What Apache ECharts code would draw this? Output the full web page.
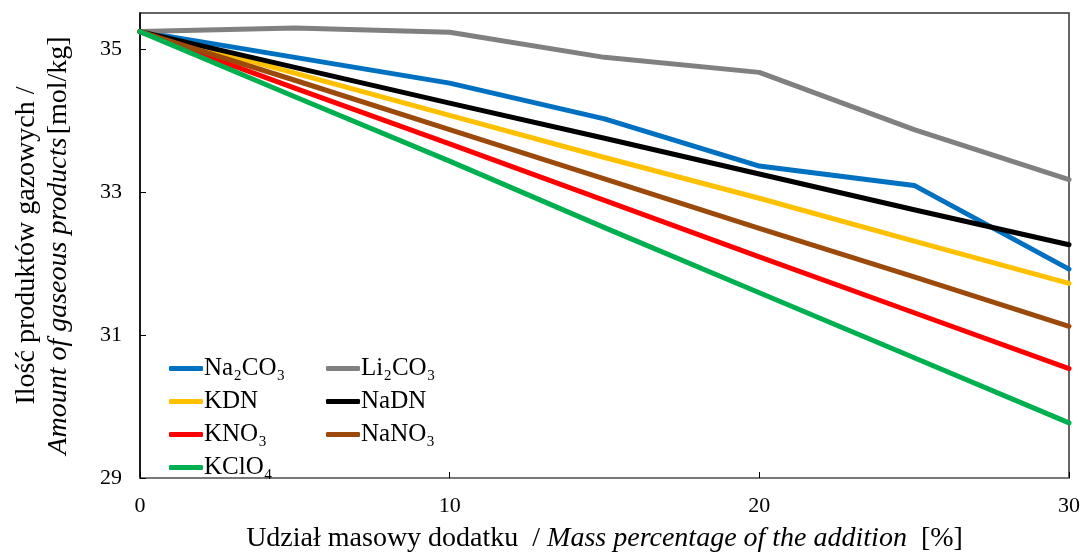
<!DOCTYPE html>
<html lang="pl">
<head>
<meta charset="UTF-8">
<title>Ilość produktów gazowych</title>
<script src="https://cdn.jsdelivr.net/npm/echarts@6/dist/echarts.min.js"></script>
<style>
    html, body, #content {
        width: 100%;
        height: 100%;
        margin: 0;
        background: #fff;
    }
</style>
</head>
<body>
<div id="content"></div>
<script>
// udział masowy dodatku [%]
var xValues = [0, 5, 10, 15, 20, 25, 30];
// ilość produktów gazowych [mol/kg]
var na2co3 = [35.24, 34.88, 34.52, 34.02, 33.36, 33.09, 31.92];
var li2co3 = [35.24, 35.29, 35.23, 34.88, 34.67, 33.87, 33.17];
var kdn    = [35.24, 34.66, 34.07, 33.48, 32.91, 32.31, 31.72];
var nadn   = [35.24, 34.74, 34.24, 33.75, 33.25, 32.75, 32.26];
var kno3   = [35.24, 34.45, 33.67, 32.88, 32.09, 31.31, 30.53];
var nano3  = [35.24, 34.56, 33.87, 33.18, 32.49, 31.81, 31.12];
var kclo4  = [35.24, 34.33, 33.43, 32.50, 31.59, 30.68, 29.77];

var names  = ['Na₂CO₃', 'Li₂CO₃', 'KDN', 'NaDN', 'KNO₃', 'NaNO₃', 'KClO₄'];
var colors = ['#0070C0', '#808080', '#FFC000', '#000000', '#FF0000', '#9C4A0C', '#00B050'];
var values = [na2co3, li2co3, kdn, nadn, kno3, nano3, kclo4];

var font = '"Liberation Serif", "Times New Roman", serif';

function pairs(arr) {
    return arr.map(function (v, i) { return [xValues[i], v]; });
}

var series = names.map(function (n, i) {
    return {
        name: n,
        type: 'line',
        data: pairs(values[i]),
        showSymbol: false,
        symbol: 'none',
        lineStyle: { color: colors[i], width: 5, cap: 'round', join: 'round' },
        itemStyle: { color: colors[i] },
        emphasis: { disabled: true }
    };
});

var legendBase = {
    orient: 'vertical',
    icon: 'roundRect',
    itemWidth: 34,
    itemHeight: 5,
    itemGap: 8,
    top: 351,
    textStyle: { fontFamily: font, fontSize: 25, color: '#000', padding: [0, 0, 0, -4] }
};

var chart = echarts.init(document.getElementById('content'));
chart.setOption({
    animation: false,
    grid: {
        left: 140, right: 12, top: 13, bottom: 76,
        show: true, borderColor: '#333', borderWidth: 1.5
    },
    legend: [
        Object.assign({}, legendBase, { left: 164, data: ['Na₂CO₃', 'KDN', 'KNO₃', 'KClO₄'] }),
        Object.assign({}, legendBase, { left: 321, data: ['Li₂CO₃', 'NaDN', 'NaNO₃'] })
    ],
    xAxis: {
        type: 'value',
        min: 0, max: 30, interval: 10,
        axisLine: { lineStyle: { color: '#808080', width: 1.5 } },
        axisTick: { inside: true, length: 6, lineStyle: { color: '#000' } },
        splitLine: { show: false },
        axisLabel: { fontFamily: font, fontSize: 22, color: '#000', margin: 17 },
        name: '{n|Udział masowy dodatku  / }{i|Mass percentage of the addition}{n|  [%]}',
        nameLocation: 'middle',
        nameGap: 47,
        nameTextStyle: {
            rich: {
                n: { fontFamily: font, fontSize: 28, color: '#000' },
                i: { fontFamily: font, fontSize: 28, fontStyle: 'italic', color: '#000' }
            }
        }
    },
    yAxis: {
        type: 'value',
        min: 29, max: 35.5, interval: 2,
        axisLine: { show: true, lineStyle: { color: '#000', width: 1.5 } },
        axisTick: { show: true, inside: true, length: 6, lineStyle: { color: '#000' } },
        splitLine: { show: false },
        axisLabel: { fontFamily: font, fontSize: 22, color: '#000', margin: 18,
            showMaxLabel: false },
        name: '{n|Ilość produktów gazowych /}\n{i|Amount of gaseous products} {n|[mol/kg]}',
        nameLocation: 'middle',
        nameRotate: 90,
        nameGap: 65,
        nameTextStyle: {
            lineHeight: 32,
            rich: {
                n: { fontFamily: font, fontSize: 28, color: '#000', lineHeight: 32 },
                i: { fontFamily: font, fontSize: 28, fontStyle: 'italic', color: '#000', lineHeight: 32 }
            }
        }
    },
    series: series
});
window.onresize = chart.resize;
</script>
</body>
</html>
